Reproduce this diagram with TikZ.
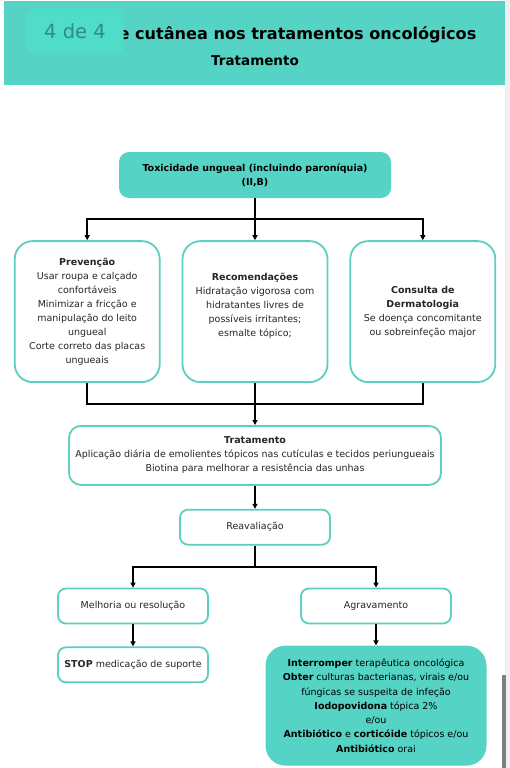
\documentclass[tikz,border=0pt]{standalone}
\usepackage{fontspec}
\setmainfont{DejaVu Sans}
\usetikzlibrary{arrows.meta,positioning,calc}
\definecolor{tealfill}{HTML}{55D3C4}
\definecolor{tealline}{HTML}{5CCFC0}
\definecolor{chipfill}{HTML}{4FDDCA}
\definecolor{chiptext}{HTML}{2E8C80}

\begin{document}
\begin{tikzpicture}[
  x=1pt, y=1pt,
  every node/.style={font=\fontsize{9.5}{14}\selectfont, align=center, inner sep=2pt},
  box/.style={draw=tealline, line width=1.8pt, fill=white, text=black!85},
  tall/.style={box, rounded corners=18pt, minimum width=145pt, minimum height=141pt},
  flat/.style={box, rounded corners=8pt, minimum width=150pt, minimum height=35pt},
  solid/.style={fill=tealfill, draw=none, text=black},
  arr/.style={-{Triangle[length=5pt,width=5pt]}, line width=1.8pt},
  link/.style={line width=1.8pt}
]
  \useasboundingbox (0,0) rectangle (510,-768);
  \fill[white] (0,0) rectangle (510,-768);
  % page frame and scroll bar
  \fill[black!6] (505,0) rectangle (510,-768);
  \fill[black!50] (502,-675) rectangle (505.5,-768);
  % header band
  \fill[tealfill] (4,-1) rectangle (505,-85);
  \node[font=\fontsize{16.1}{18}\selectfont\bfseries, text=black] (title) at (297.5,-35)
    {e cutânea nos tratamentos oncológicos};
  \node[font=\fontsize{13.5}{15}\selectfont\bfseries, text=black] (subtitle) at (255,-61) {Tratamento};
  \node[fill=chipfill, rounded corners=7pt, minimum width=97pt, minimum height=45pt,
    text=chiptext, font=\fontsize{19.5}{20}\selectfont] (chip) at (75,-31) {4 de 4};

  \node[solid, rounded corners=10pt, minimum width=272pt, minimum height=46pt,
    font=\fontsize{9.5}{14}\selectfont\bfseries] (tox) at (255,-175)
    {Toxicidade ungueal (incluindo paroníquia)\\(II,B)};
  \node[tall, below=42pt of tox] (rec)
    {\textbf{Recomendações}\\Hidratação vigorosa com\\hidratantes livres de\\possíveis irritantes;\\esmalte tópico;\\\mbox{}};
  \node[tall, left=21pt of rec] (prev)
    {\textbf{Prevenção}\\Usar roupa e calçado\\confortáveis\\Minimizar a fricção e\\manipulação do leito\\ungueal\\Corte correto das placas\\ungueais};
  \node[tall, right=21pt of rec] (derm)
    {\textbf{Consulta de}\\\textbf{Dermatologia}\\Se doença concomitante\\ou sobreinfeção major};
  \node[box, rounded corners=12pt, minimum width=372pt, minimum height=59pt, below=42pt of rec] (trat)
    {\textbf{Tratamento}\\Aplicação diária de emolientes tópicos nas cutículas e tecidos periungueais\\Biotina para melhorar a resistência das unhas};
  \node[flat, below=23pt of trat] (reav) {Reavaliação};
  \node[flat, below=42pt of reav, xshift=-122pt] (melh) {Melhoria ou resolução};
  \node[flat, below=42pt of reav, xshift=121pt] (agrav) {Agravamento};
  \node[flat, below=22pt of melh] (stop) {\textbf{STOP} medicação de suporte};
  \node[solid, rounded corners=20pt, minimum width=221pt, minimum height=120pt, below=21pt of agrav,
    font=\fontsize{9.5}{14.3}\selectfont] (agir)
    {\textbf{Interromper} terapêutica oncológica\\\textbf{Obter} culturas bacterianas, virais e/ou\\fúngicas se suspeita de infeção\\\textbf{Iodopovidona} tópica 2\%\\e/ou\\\textbf{Antibiótico} e \textbf{corticóide} tópicos e/ou\\\textbf{Antibiótico} orai};

  % junctions
  \coordinate (j1) at ($(tox.south)!.5!(rec.north)$);
  \coordinate (j2) at ($(rec.south)!.5!(trat.north)$);
  \coordinate (j3) at ($(reav.south)+(0,-21pt)$);

  \draw[link] (tox) -- (j1);
  \draw[arr] (j1) -| (prev);
  \draw[arr] (j1) -- (rec);
  \draw[arr] (j1) -| (derm);
  \draw[link] (prev.south) |- (j2) -| (derm.south);
  \draw[link] (rec) -- (j2);
  \draw[arr] (j2) -- (trat);
  \draw[arr] (trat) -- (reav);
  \draw[link] (reav) -- (j3);
  \draw[arr] (j3) -| (melh);
  \draw[arr] (j3) -| (agrav);
  \draw[arr] (melh) -- (stop);
  \draw[arr] (agrav) -- (agir);
\end{tikzpicture}
\end{document}
